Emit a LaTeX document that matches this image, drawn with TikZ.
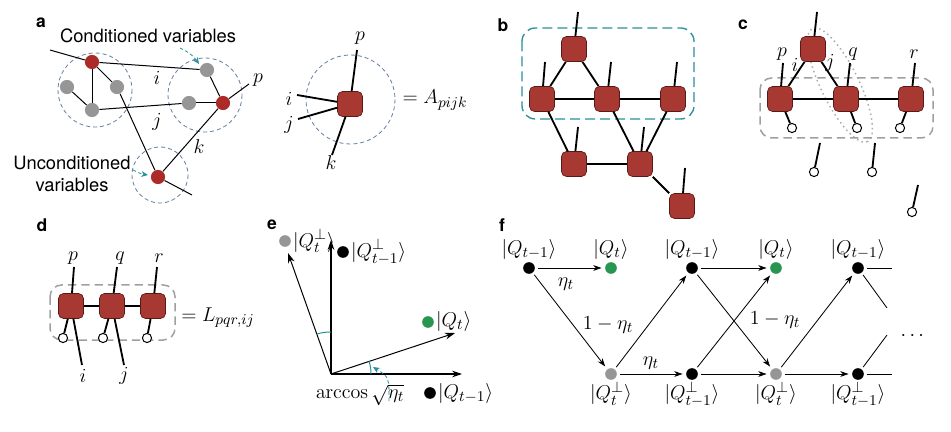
\documentclass[tikz,border=0pt]{standalone}
\usepackage{amsmath,amssymb}
\usepackage[no-math]{fontspec}
\setmainfont{TeX Gyre Heros}
\setsansfont{TeX Gyre Heros}
\usetikzlibrary{arrows.meta, positioning, calc}

\definecolor{tensorred}{RGB}{168,56,50}
\definecolor{tensoredge}{RGB}{90,25,22}
\definecolor{dotred}{RGB}{172,42,40}
\definecolor{dotgray}{RGB}{150,150,150}
\definecolor{circblue}{RGB}{105,130,165}
\definecolor{tealarrow}{RGB}{40,145,155}
\definecolor{stategreen}{RGB}{40,150,80}

\begin{document}
\begin{tikzpicture}[x=0.6pt, y=-0.6pt,
    tensor/.style={draw=tensoredge, fill=tensorred, rectangle, rounded corners=3pt,
                minimum size=15pt, inner sep=0pt, line width=0.4pt},
    rdot/.style={circle, fill=dotred, minimum size=8.5pt, inner sep=0pt},
    gdot/.style={circle, fill=dotgray, minimum size=8.5pt, inner sep=0pt},
    sdot/.style={circle, minimum size=7pt, inner sep=0pt},
    ancilla/.style={circle, draw, fill=white, minimum size=5.5pt, inner sep=0pt, line width=0.6pt},
    panel/.style={font=\sffamily\bfseries\fontsize{10.5}{12}\selectfont},
    txt/.style={font=\fontsize{11}{13}\selectfont, align=center},
    mth/.style={font=\fontsize{13}{15}\selectfont, inner sep=1pt},
    gedge/.style={line width=0.6pt},
    bond/.style={line width=1.1pt},
    cdash/.style={draw=circblue, dash pattern=on 2.4pt off 1.8pt, line width=0.5pt},
    tealarr/.style={draw=tealarrow, dash pattern=on 2pt off 1.5pt, line width=0.5pt,
                -{Stealth[length=4pt,width=3.5pt]}},
    grpbox/.style={draw=gray!75, dash pattern=on 5pt off 3pt, line width=0.9pt, rounded corners=7pt},
    arrow/.style={-{Stealth[length=5pt,width=3.5pt]}, line width=0.5pt,
                shorten >=2pt, shorten <=1.5pt}
]
\useasboundingbox (0,0) rectangle (951,432);

%% ---- PANEL A: graph of variables ----
\node [panel] (la) at (41,23) {a};
\draw [cdash] (95,90) circle [radius=37];
\draw [cdash] (205,95) circle [radius=37];
\draw [cdash] (160,175) circle [radius=28];

\coordinate (a0) at (50,50);
\coordinate (ap) at (249,84);
\coordinate (aq) at (192,195);
\node [rdot] (a1) at (92,62)  {};
\node [gdot] (a2) at (67,87)  {};
\node [gdot] (a3) at (117,87) {};
\node [gdot] (a4) at (92,110) {};
\node [gdot] (a5) at (207,70) {};
\node [gdot] (a6) at (189,103) {};
\node [rdot] (a7) at (223,103) {};
\node [rdot] (a8) at (158,177) {};

\draw [gedge] (a0) -- (a1);
\draw [gedge] (a1) -- (a5);
\draw [gedge] (a1) -- (a4);
\draw [gedge] (a1) -- (a3);
\draw [gedge] (a2) -- (a4);
\draw [gedge] (a4) -- (a6);
\draw [gedge] (a3) -- (a8);
\draw [gedge] (a5) -- (a7);
\draw [gedge] (a6) -- (a7);
\draw [gedge] (a8) -- (a7);
\draw [gedge] (a7) -- (ap);
\draw [gedge] (a8) -- (aq);

\node [mth] (ai) at (157,78)  {$i$};
\node [mth] (aj) at (157,122) {$j$};
\node [mth] (ak) at (199,147) {$k$};
\node [mth] (apl) at (258,80) {$p$};

\node [txt] (cond)   at (148,36)  {Conditioned variables};
\node [txt] (uncond) at (72,174)  {Unconditioned\\variables};
\coordinate (cv1) at (180,48);
\coordinate (cv2) at (199,64);
\coordinate (uv1) at (133,170);
\coordinate (uv2) at (148,175);
\draw [tealarr] (cv1) to [bend left=15] (cv2);
\draw [tealarr] (uv1) to [bend right=10] (uv2);

%% ---- PANEL A: single tensor ----
\draw [cdash] (350.5,99.5) circle [radius=44.5];
\coordinate (Ap) at (357,50);
\coordinate (Ai) at (297,95);
\coordinate (Aj) at (298,119);
\coordinate (Ak) at (332,155);
\node [tensor] (A) at (350,104) {};
\draw [bond] (A) -- (Ap);
\draw [bond] (A) -- (Ai);
\draw [bond] (A) -- (Aj);
\draw [bond] (A) -- (Ak);
\node [mth] (Apl) at (360,38)  {$p$};
\node [mth] (Ail) at (289,99)  {$i$};
\node [mth] (Ajl) at (289,125) {$j$};
\node [mth] (Akl) at (331,163) {$k$};
\node [mth] (Aeq) at (435,100) {$=A_{pijk}$};

%% ---- PANEL B: tensor network ----
\node [panel] (lb) at (503,25) {b};
\draw [draw=tealarrow, dash pattern=on 6pt off 3pt, line width=0.8pt, rounded corners=8pt]
    (522,28) rectangle (694,119);
\node [tensor] (b1) at (574,49)  {};
\node [tensor] (b2) at (542,99)  {};
\node [tensor] (b3) at (607,99)  {};
\node [tensor] (b4) at (673,99)  {};
\node [tensor] (b5) at (574,164) {};
\node [tensor] (b6) at (640,164) {};
\node [tensor] (b7) at (682,206) {};
\draw [bond] (b1) -- (b2);
\draw [bond] (b1) -- (b3);
\draw [bond] (b2) -- (b3);
\draw [bond] (b3) -- (b4);
\draw [bond] (b2) -- (b5);
\draw [bond] (b5) -- (b6);
\draw [bond] (b3) -- (b6);
\draw [bond] (b4) -- (b6);
\draw [bond] (b6) -- (b7);
\draw [bond] (b1) -- ++(4,-37);
\draw [bond] (b2) -- ++(3,-37);
\draw [bond] (b3) -- ++(4,-37);
\draw [bond] (b4) -- ++(4,-37);
\draw [bond] (b5) -- ++(4,-37);
\draw [bond] (b6) -- ++(4,-37);
\draw [bond] (b7) -- ++(3,-38);

%% ---- PANEL C: conditioning on a subset ----
\node [panel] (lc) at (743,25) {c};
\draw [draw=gray!65, dotted, line width=0.9pt, rotate around={-64:(840,85)}]
    (840,85) ellipse [x radius=63, y radius=19];
\draw [grpbox] (760,78) rectangle (933,138);
\node [tensor] (c1) at (813,49) {};
\node [tensor] (c2) at (780,99) {};
\node [tensor] (c3) at (846,99) {};
\node [tensor] (c4) at (911,99) {};
\node [ancilla] (o2) at (792,128) {};
\node [ancilla] (o3) at (857,128) {};
\node [ancilla] (o4) at (900,128) {};
\draw [bond] (c1) -- (c2);
\draw [bond] (c1) -- (c3);
\draw [bond] (c2) -- (c3);
\draw [bond] (c3) -- (c4);
\draw [bond] (c1) -- ++(4,-37);
\draw [bond] (c2) -- ++(3,-36);
\draw [bond] (c3) -- ++(4,-36);
\draw [bond] (c4) -- ++(4,-36);
\draw [bond] (c2) -- (o2);
\draw [bond] (c3) -- (o3);
\draw [bond] (c4) -- (o4);
\node [mth] (cp) at (782,54) {$p$};
\node [mth] (cq) at (853,54) {$q$};
\node [mth] (cr) at (914,54) {$r$};
\node [mth] (ci) at (795,65) {$i$};
\node [mth] (cj) at (830,63) {$j$};
\node [ancilla] (u1) at (814,172) {};
\node [ancilla] (u2) at (872,172) {};
\node [ancilla] (u3) at (912,212) {};
\draw [bond] (u1) -- ++(6,-29);
\draw [bond] (u2) -- ++(3,-29);
\draw [bond] (u3) -- ++(6,-27);

%% ---- PANEL D: conditioned tensor ----
\node [panel] (ld) at (42,225) {d};
\draw [grpbox] (50,285) rectangle (175,340);
\node [tensor] (d1) at (71,306)  {};
\node [tensor] (d2) at (112,306) {};
\node [tensor] (d3) at (153,306) {};
\node [ancilla] (e1) at (63,338)  {};
\node [ancilla] (e2) at (103,338) {};
\node [ancilla] (e3) at (147,338) {};
\coordinate (di) at (82,365);
\coordinate (dj) at (124,365);
\draw [bond] (d1) -- (d2);
\draw [bond] (d2) -- (d3);
\draw [bond] (d1) -- ++(3,-39);
\draw [bond] (d2) -- ++(5,-39);
\draw [bond] (d3) -- ++(4,-39);
\draw [bond] (d1) -- (e1);
\draw [bond] (d2) -- (e2);
\draw [bond] (d3) -- (e3);
\draw [bond] (d1) -- (di);
\draw [bond] (d2) -- (dj);
\node [mth] (dp) at (73,258)  {$p$};
\node [mth] (dq) at (120,258) {$q$};
\node [mth] (dr) at (159,258) {$r$};
\node [mth] (dil) at (83,376)  {$i$};
\node [mth] (djl) at (124,376) {$j$};
\node [mth] (deq) at (218,318) {$=L_{pqr,ij}$};

%% ---- PANEL E: rotation of the basis ----
\node [panel] (le) at (272,225) {e};
\coordinate (O)  at (331,374);
\coordinate (ex) at (462,374);
\coordinate (ey) at (331,240);
\coordinate (eq) at (455,333);
\coordinate (ep) at (288,253);
\draw [-{Stealth[length=6pt,width=4pt]}, line width=0.8pt] (O) -- (ex);
\draw [-{Stealth[length=6pt,width=4pt]}, line width=0.8pt] (O) -- (ey);
\draw [-{Stealth[length=6pt,width=4pt]}, line width=0.6pt] (O) -- (eq);
\draw [-{Stealth[length=6pt,width=4pt]}, line width=0.6pt] (O) -- (ep);
\coordinate (m1) at (371,374);
\coordinate (m2) at (369,361);
\coordinate (m3) at (331,332);
\coordinate (m4) at (317,334);
\draw [draw=tealarrow, line width=0.6pt] (m1) to [bend right=8] (m2);
\draw [draw=tealarrow, line width=0.6pt] (m3) to [bend right=8] (m4);

\node [sdot, fill=dotgray]    (s1) at (285,241) {};
\node [sdot, fill=black]      (s2) at (343,252) {};
\node [sdot, fill=stategreen] (s3) at (428,322) {};
\node [sdot, fill=black]      (s4) at (430,393) {};
\node [mth, right=0pt of s1] (s1l) {$|Q_t^\perp\rangle$};
\node [mth, right=0pt of s2] (s2l) {$|Q_{t-1}^\perp\rangle$};
\node [mth, right=0pt of s3] (s3l) {$|Q_t\rangle$};
\node [mth, right=0pt of s4] (s4l) {$|Q_{t-1}\rangle$};
\node [mth] (arc) at (360,395) {$\arccos\sqrt{\eta_t}$};
\coordinate (ar1) at (389,401);
\coordinate (ar2) at (373,367);
\draw [tealarr] (ar1) .. controls (389,377) .. (ar2);

%% ---- PANEL F: transition graph ----
\node [panel] (lf) at (502,225) {f};
\node [sdot, fill=black]      (t1) at (529,268) {};
\node [sdot, fill=stategreen] (t2) at (611,268) {};
\node [sdot, fill=black]      (t3) at (692,268) {};
\node [sdot, fill=stategreen] (t4) at (776,268) {};
\node [sdot, fill=black]      (t5) at (858,268) {};
\node [sdot, fill=dotgray]    (q2) at (611,374) {};
\node [sdot, fill=black]      (q3) at (692,374) {};
\node [sdot, fill=dotgray]    (q4) at (776,374) {};
\node [sdot, fill=black]      (q5) at (858,374) {};

\node [mth, above=0pt of t1] (t1l) {$|Q_{t-1}\rangle$};
\node [mth, above=0pt of t2] (t2l) {$|Q_t\rangle$};
\node [mth, above=0pt of t3] (t3l) {$|Q_{t-1}\rangle$};
\node [mth, above=0pt of t4] (t4l) {$|Q_t\rangle$};
\node [mth, above=0pt of t5] (t5l) {$|Q_{t-1}\rangle$};
\node [mth, below=0pt of q2] (q2l) {$|Q_t^\perp\rangle$};
\node [mth, below=0pt of q3] (q3l) {$|Q_{t-1}^\perp\rangle$};
\node [mth, below=0pt of q4] (q4l) {$|Q_t^\perp\rangle$};
\node [mth, below=0pt of q5] (q5l) {$|Q_{t-1}^\perp\rangle$};

\draw [arrow] (t1) -- (t2);
\draw [arrow] (t1) -- (q2);
\draw [arrow] (q2) -- (t3);
\draw [arrow] (q2) -- (q3);
\draw [arrow] (t3) -- (t4);
\draw [arrow] (t3) -- (q4);
\draw [arrow] (q3) -- (t4);
\draw [arrow] (q3) -- (q4);
\draw [arrow] (q4) -- (t5);
\draw [arrow] (q4) -- (q5);
\coordinate (f1) at (892,268);
\coordinate (f2) at (887,308);
\coordinate (f3) at (892,374);
\coordinate (f4) at (887,335);
\draw [line width=0.5pt, shorten <=1.5pt] (t5) -- (f1);
\draw [line width=0.5pt, shorten <=1.5pt] (t5) -- (f2);
\draw [line width=0.5pt, shorten <=1.5pt] (q5) -- (f3);
\draw [line width=0.5pt, shorten <=1.5pt] (q5) -- (f4);

\node [mth] (n1) at (566,284) {$\eta_t$};
\node [mth] (n2) at (651,363) {$\eta_t$};
\node [mth] (n3) at (608,325) {$1-\eta_t$};
\node [mth] (n4) at (775,320) {$1-\eta_t$};
\node [mth] (dots) at (914,336) {$\cdots$};

\end{tikzpicture}
\end{document}
